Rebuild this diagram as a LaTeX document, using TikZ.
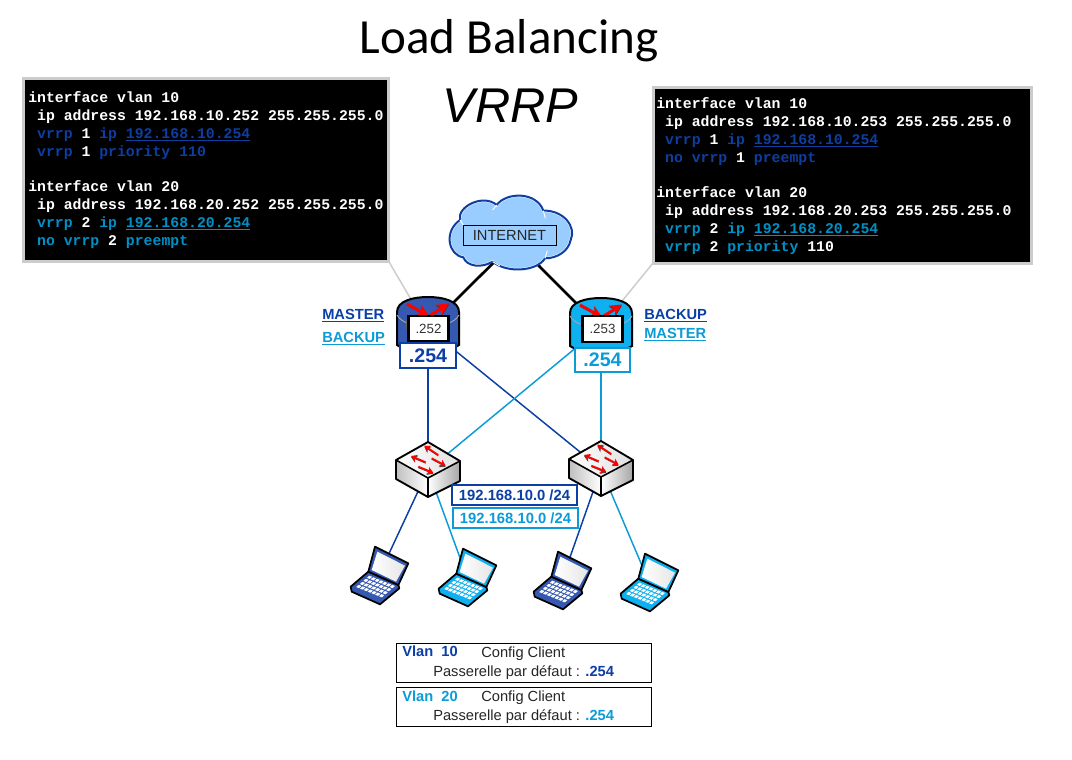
\documentclass[tikz,border=0pt]{standalone}
\usepackage{fontspec}
\setmainfont{Liberation Sans}
\setmonofont{Liberation Mono}
\newfontfamily\carl{Carlito}
\usetikzlibrary{arrows.meta}
\definecolor{dk}{HTML}{0B3FA5}
\definecolor{lt}{HTML}{0C9BD6}
\definecolor{cdk}{HTML}{0E3EA0}
\definecolor{clt}{HTML}{0090C6}
\definecolor{rdk}{HTML}{3558B0}
\definecolor{rlt}{HTML}{0FB0F0}
\definecolor{cloudfill}{HTML}{99CCFF}
\definecolor{calloutgray}{HTML}{CCCCCC}
\tikzset{
  hit/.style={inner sep=0pt,outer sep=0pt},
  cfg/.style={draw=calloutgray,line width=2.25pt,fill=black,inner sep=0pt,outer sep=0pt},
  code/.style={anchor=base west,inner sep=0pt,text=white,font=\ttfamily\bfseries\fontsize{11.1}{13}\selectfont},
  lnk/.style={line width=1.1pt},
  linkd/.style={lnk,draw=dk},
  linkl/.style={lnk,draw=lt},
  uplink/.style={line width=2pt,draw=black,shorten <=-8pt,shorten >=-8pt},
  callout/.style={line width=1.1pt,draw=calloutgray},
  txt/.style={anchor=base west,inner sep=0pt,text=black!85,font=\fontsize{11}{13}\selectfont},
  tag/.style={anchor=base west,inner sep=0pt,font=\bfseries\fontsize{11}{13}\selectfont},
  vip/.style={draw,fill=white,line width=1.6pt,inner sep=0pt,font=\bfseries\fontsize{14.7}{16}\selectfont},
  real/.style={draw=black,fill=white,line width=2.2pt,inner sep=0pt,text=black!80,font=\fontsize{10}{12}\selectfont},
  net/.style={draw,fill=white,line width=1pt,inner sep=0pt,minimum width=93.75pt,minimum height=15pt,font=\bfseries\fontsize{11.1}{13}\selectfont},
  clientbox/.style={draw=black,line width=.6pt,fill=white,inner sep=0pt,minimum width=191.25pt,minimum height=29.25pt},
  redarrow/.style={draw=red,line width=1.3pt,-{Stealth[length=4.5pt,width=5.5pt]}},
  redshade/.style={draw=black!70,line width=.6pt,-{Stealth[length=4.5pt,width=5.5pt]}},
}
% switch: px offset from the first switch
\newcommand{\switchart}[2]{%
\begin{scope}[shift={(#1,#2)}]
  \shade[left color=white,right color=black!12] (396,460)--(428,442)--(460,461)--(428,478)--cycle;
  \shade[left color=black!25,right color=white] (396,460)--(428,478)--(428,497)--(396,479)--cycle;
  \shade[left color=white,right color=black!35] (428,478)--(460,461)--(460,481)--(428,497)--cycle;
  \draw[black,line width=1.4pt,line join=round] (396,460)--(428,442)--(460,461)--(460,481)--(428,497)--(396,479)--cycle;
  \draw[black,line width=1.2pt,line join=round] (396,460)--(428,478)--(460,461) (428,478)--(428,497);
  \draw[redshade] (438.3,456)--(424.3,446.7);
  \draw[redarrow] (438.3,455)--(424.3,445.7);
  \draw[redshade] (425.7,463.3)--(411,457);
  \draw[redarrow] (425.7,462.3)--(411,456);
  \draw[redshade] (431.7,459.3)--(445.7,466.7);
  \draw[redarrow] (431.7,458.3)--(445.7,465.7);
  \draw[redshade] (418.3,467.7)--(433.3,473.7);
  \draw[redarrow] (418.3,466.7)--(433.3,472.7);
\end{scope}}
% laptop: px offset from the first laptop, drawn in 3x zoom coordinates
\newcommand{\laptopart}[3]{%
\begin{scope}[shift={(340+#1,535+#2)},x=.25pt,y=-.25pt]
  \fill[#3,draw=black,line width=1.3pt,line join=round] (32,155)--(35,170)--(120,208)--(178,160)--(175,150)--(85,110)--cycle;
  \foreach \i in {0,...,6}{\foreach \j in {0,...,3}{
    \pgfmathsetmacro{\kx}{88+(\i+.15)*11.4-(\j+.15)*10.7}
    \pgfmathsetmacro{\ky}{120+(\i+.15)*4.6+(\j+.15)*9.2}
    \fill[white] (\kx,\ky)--++(8.4,3.4)--++(-7.4,6.4)--++(-8.4,-3.4)--cycle;
  }}
  \fill[#3,draw=black,line width=1.3pt,line join=round] (105,35)--(205,85)--(175,150)--(85,110)--cycle;
  \shade[left color=white,right color=black!10] (112,50)--(195,92)--(168,140)--(95,105)--cycle;
\end{scope}}
% router body
\newcommand{\routerart}[3]{%
\begin{scope}[shift={(#1,#2)}]
  \fill[#3,draw=black,line width=1.5pt] (-31,48)--(-31,15) .. controls (-31,4) and (-15,0) .. (0,0) .. controls (15,0) and (31,4) .. (31,15)--(31,48) .. controls (20,56) and (-20,56) .. (-31,48)--cycle;
  \draw[black!35,line width=.7pt] (-31,18) .. controls (-22,34) and (22,34) .. (31,18);
  \draw[black!80,line width=.8pt,-{Stealth[length=9pt,width=9pt]}] (-21,8)--(1,20);
  \draw[red,line width=2.2pt,-{Stealth[length=9pt,width=9pt]}] (-21,7)--(1,19);
  \draw[black!80,line width=.8pt,-{Stealth[length=9pt,width=9pt]}] (2,19.5)--(21,7.5);
  \draw[red,line width=2.2pt,-{Stealth[length=9pt,width=9pt]}] (2,18.5)--(21,6.5);
\end{scope}}
\def\cloudpath{(480,90) .. controls (470,50) and (550,10) .. (590,45)
  .. controls (620,5) and (710,5) .. (730,62)
  .. controls (790,60) and (830,110) .. (812,150)
  .. controls (805,185) and (770,205) .. (735,205)
  .. controls (710,245) and (620,250) .. (578,215)
  .. controls (545,235) and (500,230) .. (490,202)
  .. controls (445,195) and (430,125) .. (480,90) -- cycle}
\begin{document}
\begin{tikzpicture}[x=.75pt,y=-.75pt]
\useasboundingbox (0,0) rectangle (1072,760);
\fill[white] (0,0) rectangle (1072,760);

% anchor nodes for the connectors
\node[hit,minimum width=92.25pt,minimum height=56.25pt] (cloud) at (510.5,232.5) {};
\node[hit,minimum width=46.5pt,minimum height=47.25pt] (r1) at (428,328.5) {};
\node[hit,minimum width=46.5pt,minimum height=45pt] (r2) at (601,327) {};
\node[hit] (sw1) at (428,470) {};
\node[hit] (sw2) at (601,469) {};
\node[hit] (lap1) at (379,575) {};
\node[hit] (lap2) at (467,577) {};
\node[hit] (lap3) at (562,580) {};
\node[hit] (lap4) at (649,582) {};
\node[cfg,minimum width=273.75pt,minimum height=137.25pt] (cfgL) at (206,169.5) {};
\node[cfg,minimum width=283.5pt,minimum height=132pt] (cfgR) at (842,175) {};

% connectors
\draw[callout] (cfgL.south east)--(r1.center);
\draw[callout] (cfgR.south west)--(r2.center);
\draw[uplink] (cloud.237)--(r1.north east);
\draw[uplink] (cloud.311)--(r2.north west);
\draw[linkd] (r1.center)--(sw1.center);
\draw[linkd] (r1.center)--(sw2.center);
\draw[linkl] (r2.center)--(sw1.center);
\draw[linkl] (r2.center)--(sw2.center);
\draw[linkd] (sw1.center)--(lap1.center);
\draw[linkl] (sw1.center)--(lap2.center);
\draw[linkd] (sw2.center)--(lap3.center);
\draw[linkl] (sw2.center)--(lap4.center);

% titles
\node[anchor=base,inner sep=0pt,font=\carl\fontsize{36.8}{42}\selectfont,text=black] (title) at (509,53) {Load Balancing};
\node[anchor=base,inner sep=0pt,font=\itshape\fontsize{36.6}{42}\selectfont,text=black] (subtitle) at (510.5,122) {VRRP};

% left configuration
\node[code] (a1) at (28,102) {interface vlan 10};
\node[code] (a2) at (36.9,120) {ip address 192.168.10.252 255.255.255.0};
\node[code] (a3) at (36.9,138) {\textcolor{cdk}{vrrp} 1 \textcolor{cdk}{ip \underline{192.168.10.254}}};
\node[code] (a4) at (36.9,156) {\textcolor{cdk}{vrrp} 1 \textcolor{cdk}{priority 110}};
\node[code] (a5) at (28,191) {interface vlan 20};
\node[code] (a6) at (36.9,209) {ip address 192.168.20.252 255.255.255.0};
\node[code] (a7) at (36.9,227) {\textcolor{clt}{vrrp} 2 \textcolor{clt}{ip \underline{192.168.20.254}}};
\node[code] (a8) at (36.9,245) {\textcolor{clt}{no vrrp} 2 \textcolor{clt}{preempt}};

% right configuration
\node[code] (b1) at (656,108) {interface vlan 10};
\node[code] (b2) at (664.9,126) {ip address 192.168.10.253 255.255.255.0};
\node[code] (b3) at (664.9,144) {\textcolor{cdk}{vrrp} 1 \textcolor{cdk}{ip \underline{192.168.10.254}}};
\node[code] (b4) at (664.9,162) {\textcolor{cdk}{no vrrp} 1 \textcolor{cdk}{preempt}};
\node[code] (b5) at (656,197) {interface vlan 20};
\node[code] (b6) at (664.9,215) {ip address 192.168.20.253 255.255.255.0};
\node[code] (b7) at (664.9,233) {\textcolor{clt}{vrrp} 2 \textcolor{clt}{ip \underline{192.168.20.254}}};
\node[code] (b8) at (664.9,251) {\textcolor{clt}{vrrp} 2 \textcolor{clt}{priority} 110};

% cloud
\begin{scope}[shift={(300,190)},x=.25pt,y=-.25pt]
  \fill[cloudfill] \cloudpath;
  \begin{scope}
    \clip \cloudpath;
    \draw[white,line width=2.2pt] \cloudpath;
  \end{scope}
  \draw[cdk,line width=1.5pt,line join=round] \cloudpath;
  \draw[white,line width=.7pt] (735,205)--(742,182) (578,215)--(600,228) (590,45)--(578,60) (730,62)--(736,85) (480,90)--(492,108);
\end{scope}
\node[draw=black,line width=.6pt,fill=cloudfill,inner sep=0pt,minimum width=69.75pt,minimum height=15pt,text=black!85,font=\fontsize{11}{13}\selectfont] (inet) at (509.5,235) {INTERNET};

% routers
\routerart{428}{297}{rdk}
\routerart{601}{298}{rlt}
\fill[red,draw=black!60,line width=.3pt] (406,320) rectangle (410,328);
\node[vip,draw=dk,text=dk,minimum width=42pt,minimum height=18.75pt] (v1) at (428,355.5) {.254};
\node[vip,draw=lt,text=lt,minimum width=41.25pt,minimum height=18pt] (v2) at (602.5,360) {.254};
\node[real,minimum width=30pt,minimum height=18.75pt] (ip1) at (428.5,328.5) {.252};
\node[real,minimum width=30pt,minimum height=19.5pt] (ip2) at (602.5,329) {.253};

% role labels
\node[tag,text=dk] (m1) at (322,319) {\underline{MASTER}};
\node[tag,text=lt] (b1r) at (322,342) {\underline{BACKUP}};
\node[tag,text=dk] (b2r) at (644,319) {\underline{BACKUP}};
\node[tag,text=lt] (m2) at (644,338) {\underline{MASTER}};

% switches
\switchart{0}{0}
\switchart{173}{-1}

% subnets
\node[net,draw=dk,text=dk] (n1) at (514.5,495) {192.168.10.0 /24};
\node[net,draw=lt,text=lt] (n2) at (515.5,518) {192.168.10.0 /24};

% laptops
\laptopart{0}{0}{rdk}
\laptopart{88}{2}{rlt}
\laptopart{183}{5}{rdk}
\laptopart{270}{7}{rlt}

% client boxes
\node[clientbox] (c1) at (523.5,662.5) {};
\node[clientbox] (c2) at (523.5,706.5) {};
\node[tag,text=dk] (c1a) at (402,656) {Vlan\ \ 10};
\node[txt] (c1b) at (481,657) {Config Client};
\node[txt] (c1c) at (433,676) {Passerelle par défaut : \textcolor{dk}{\bfseries .254}};
\node[tag,text=lt] (c2a) at (402,701) {Vlan\ \ 20};
\node[txt] (c2b) at (481,701) {Config Client};
\node[txt] (c2c) at (433,720) {Passerelle par défaut : \textcolor{lt}{\bfseries .254}};
\end{tikzpicture}
\end{document}
